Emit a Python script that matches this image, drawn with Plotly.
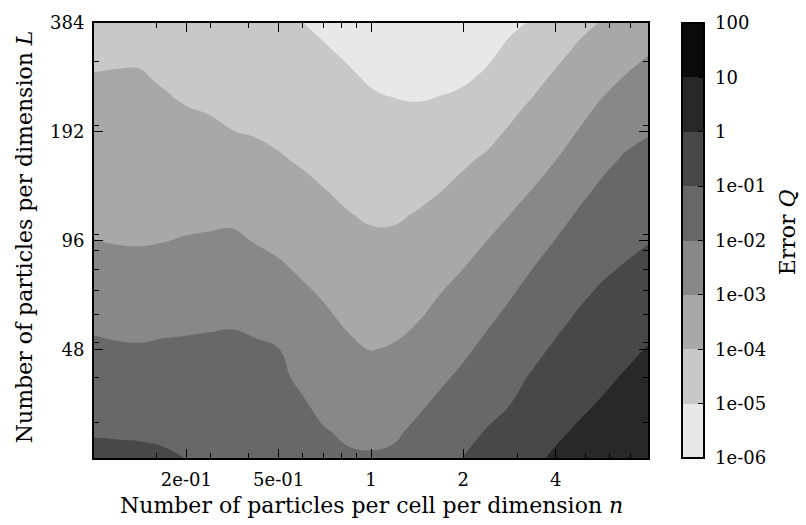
import plotly.graph_objects as go

# Grid: particles per cell per dimension (n) and particles per dimension (L)
n_values = [0.125, 0.1487, 0.177, 0.2102, 0.25, 0.2973, 0.354, 0.4204, 0.5,
            0.5946, 0.707, 0.8409, 1.0, 1.1892, 1.414, 1.6818, 2.0, 2.3784,
            2.828, 3.3636, 4.0, 4.7568, 5.657, 6.7272, 8.0]
L_values = [24, 28.54, 33.94, 40.36, 48, 57.08, 67.88, 80.72, 96, 114.16,
            135.76, 161.45, 192, 228.33, 271.53, 322.91, 384]

# log10 of the error Q, one list per n column (ordered by increasing L)
log10_error_by_n = [
    [-0.80, -1.07, -1.33, -1.59, -1.86, -2.13, -2.42, -2.71, -2.99, -3.16, -3.32, -3.48, -3.65, -3.81, -3.97, -4.13, -4.29],
    [-0.81, -1.09, -1.36, -1.64, -1.91, -2.20, -2.49, -2.78, -3.04, -3.19, -3.34, -3.50, -3.65, -3.80, -3.95, -4.11, -4.26],
    [-0.83, -1.11, -1.38, -1.66, -1.93, -2.22, -2.51, -2.81, -3.05, -3.20, -3.35, -3.50, -3.65, -3.80, -3.95, -4.11, -4.26],
    [-0.90, -1.14, -1.39, -1.64, -1.89, -2.16, -2.45, -2.74, -3.02, -3.19, -3.37, -3.55, -3.72, -3.90, -4.07, -4.25, -4.42],
    [-1.01, -1.22, -1.43, -1.66, -1.87, -2.13, -2.37, -2.68, -2.96, -3.17, -3.37, -3.59, -3.79, -4.01, -4.20, -4.38, -4.57],
    [-1.07, -1.27, -1.46, -1.67, -1.85, -2.09, -2.35, -2.63, -2.92, -3.16, -3.40, -3.63, -3.87, -4.08, -4.26, -4.45, -4.63],
    [-1.15, -1.33, -1.50, -1.68, -1.84, -2.06, -2.32, -2.61, -2.88, -3.16, -3.44, -3.72, -3.99, -4.17, -4.34, -4.52, -4.69],
    [-1.30, -1.45, -1.61, -1.76, -1.91, -2.13, -2.44, -2.74, -3.04, -3.30, -3.56, -3.81, -4.05, -4.25, -4.45, -4.65, -4.84],
    [-1.45, -1.59, -1.74, -1.87, -1.99, -2.31, -2.62, -2.90, -3.18, -3.43, -3.69, -3.94, -4.15, -4.34, -4.55, -4.72, -4.88],
    [-1.66, -1.80, -1.93, -2.13, -2.37, -2.62, -2.86, -3.11, -3.36, -3.61, -3.86, -4.08, -4.27, -4.45, -4.63, -4.81, -4.99],
    [-1.78, -1.97, -2.19, -2.41, -2.63, -2.85, -3.07, -3.31, -3.55, -3.79, -4.02, -4.21, -4.39, -4.58, -4.76, -4.95, -5.13],
    [-1.92, -2.10, -2.35, -2.60, -2.85, -3.09, -3.31, -3.53, -3.76, -3.98, -4.17, -4.35, -4.54, -4.72, -4.91, -5.10, -5.28],
    [-1.92, -2.20, -2.49, -2.77, -3.02, -3.25, -3.46, -3.68, -3.89, -4.09, -4.29, -4.48, -4.68, -4.87, -5.08, -5.31, -5.54],
    [-1.85, -2.13, -2.40, -2.67, -2.94, -3.18, -3.41, -3.64, -3.87, -4.10, -4.31, -4.52, -4.73, -4.95, -5.15, -5.35, -5.56],
    [-1.56, -1.85, -2.14, -2.43, -2.73, -3.01, -3.25, -3.49, -3.73, -3.97, -4.21, -4.47, -4.70, -4.97, -5.25, -5.45, -5.60],
    [-1.25, -1.55, -1.85, -2.14, -2.43, -2.72, -2.99, -3.27, -3.53, -3.79, -4.06, -4.34, -4.63, -4.91, -5.19, -5.42, -5.60],
    [-0.99, -1.30, -1.57, -1.85, -2.14, -2.43, -2.72, -3.01, -3.29, -3.55, -3.85, -4.11, -4.40, -4.76, -5.12, -5.39, -5.55],
    [-0.69, -0.97, -1.25, -1.53, -1.81, -2.10, -2.40, -2.70, -3.01, -3.31, -3.61, -3.91, -4.23, -4.56, -4.89, -5.18, -5.40],
    [-0.43, -0.70, -1.02, -1.23, -1.50, -1.78, -2.06, -2.38, -2.70, -3.02, -3.32, -3.62, -3.92, -4.23, -4.57, -4.86, -5.15],
    [-0.14, -0.40, -0.66, -0.93, -1.20, -1.47, -1.73, -2.01, -2.35, -2.69, -3.03, -3.32, -3.61, -3.91, -4.24, -4.59, -4.94],
    [0.11, -0.14, -0.39, -0.64, -0.89, -1.16, -1.43, -1.70, -1.98, -2.32, -2.67, -3.02, -3.31, -3.60, -3.89, -4.22, -4.60],
    [0.33, 0.09, -0.15, -0.39, -0.63, -0.87, -1.12, -1.39, -1.66, -1.93, -2.26, -2.61, -2.97, -3.28, -3.59, -3.89, -4.20],
    [0.52, 0.29, 0.06, -0.17, -0.41, -0.65, -0.88, -1.13, -1.39, -1.65, -1.90, -2.22, -2.57, -2.92, -3.27, -3.57, -3.96],
    [0.78, 0.54, 0.31, 0.06, -0.19, -0.44, -0.69, -0.95, -1.19, -1.43, -1.68, -1.92, -2.24, -2.61, -2.97, -3.32, -3.66],
    [0.93, 0.75, 0.54, 0.29, 0.04, -0.23, -0.50, -0.77, -1.04, -1.29, -1.54, -1.79, -2.05, -2.39, -2.73, -3.07, -3.40],
]

# Contour levels (log10 Q), their labels and the gray of each band between them
level_exponents = [-6, -5, -4, -3, -2, -1, 0, 1, 2]
level_labels = ["1e-06", "1e-05", "1e-04", "1e-03", "1e-02", "1e-01", "1", "10", "100"]
band_grays = ["#e8e8e8", "#c8c8c8", "#a8a8a8", "#888888",
              "#686868", "#484848", "#282828", "#0a0a0a"]

# Axis ticks
x_major = [0.25, 0.5, 1, 2, 4]
x_major_text = ["2e-01", "5e-01", "1", "2", "4"]
x_minor = [0.2, 0.3, 0.4, 0.6, 0.7, 0.8, 0.9, 3, 5, 6, 7]
y_major = [48, 96, 192, 384]
y_minor = [30, 40, 50, 60, 70, 80, 90, 100, 200, 300]

# z as rows over L, columns over n
z_grid = [[col[j] for col in log10_error_by_n] for j in range(len(L_values))]

# Contour fill colours: plotly evaluates the scale at level + size/2 over
# the domain [start - size/2, end + size/2]
nlev = len(level_exponents)
fill_scale = [[0.0, band_grays[0]]]
for i, c in enumerate(band_grays):
    fill_scale.append([(i + 1) / nlev, c])
fill_scale.append([1.0, band_grays[-1]])

# Stepped scale for the colour bar, one band per decade
nb = len(band_grays)
bar_scale = []
for i, c in enumerate(band_grays):
    bar_scale.append([i / nb, c])
    bar_scale.append([(i + 1) / nb, c])

FONT = "DejaVu Serif"
FS = 18        # tick labels
FS_TITLE = 22  # axis titles

fig = go.Figure()
fig.add_trace(go.Contour(
    x=n_values,
    y=L_values,
    z=z_grid,
    contours=dict(start=level_exponents[0], end=level_exponents[-1], size=1, coloring="fill"),
    colorscale=fill_scale,
    line=dict(width=0, smoothing=1.3),
    showscale=False,
    hoverinfo="skip",
))

bar_common = dict(
    x=(682 - 94) / 554, xanchor="left", xpad=0,
    y=0.5, yanchor="middle", ypad=0, len=1, lenmode="fraction",
    thickness=22, outlinewidth=2, outlinecolor="black",
    tickmode="array", tickvals=level_exponents,
    tickfont=dict(family=FONT, size=FS, color="black"),
)

# Colour bar with its labels (invisible outside ticks set the label gap)
fig.add_trace(go.Scatter(
    x=[None, None], y=[None, None], mode="markers",
    marker=dict(
        color=[level_exponents[0], level_exponents[-1]],
        cmin=level_exponents[0], cmax=level_exponents[-1],
        colorscale=bar_scale, showscale=True,
        colorbar=dict(ticktext=level_labels, ticks="outside", ticklen=7,
                      tickcolor="rgba(0,0,0,0)", **bar_common),
    ),
    hoverinfo="skip",
))
# Same colour bar again carrying the inside tick marks
fig.add_trace(go.Scatter(
    x=[None, None], y=[None, None], mode="markers",
    marker=dict(
        color=[level_exponents[0], level_exponents[-1]],
        cmin=level_exponents[0], cmax=level_exponents[-1],
        colorscale=bar_scale, showscale=True,
        colorbar=dict(ticks="inside", ticklen=7, tickwidth=1.2, tickcolor="black",
                      showticklabels=False, **bar_common),
    ),
    hoverinfo="skip",
))

axis_common = dict(
    showgrid=False, zeroline=False,
    showline=True, linewidth=2, linecolor="black", mirror="allticks",
    ticks="inside", ticklen=9, tickwidth=1.2, tickcolor="black",
    tickfont=dict(family=FONT, size=FS, color="black"),
)

fig.update_xaxes(
    type="log", range=[-0.90309, 0.90309],
    tickmode="array", tickvals=x_major, ticktext=x_major_text,
    minor=dict(tickmode="array", tickvals=x_minor, ticks="inside", ticklen=5,
               tickwidth=1, tickcolor="black"),
    ticklabelstandoff=4,
    **axis_common,
)
fig.update_yaxes(
    type="log", range=[1.380211, 2.584331],
    tickmode="array", tickvals=y_major, ticktext=[str(v) for v in y_major],
    minor=dict(tickmode="array", tickvals=y_minor, ticks="inside", ticklen=5,
               tickwidth=1, tickcolor="black"),
    ticklabelstandoff=4,
    **axis_common,
)

fig.add_annotation(
    text="Number of particles per cell per dimension <i>n</i>",
    xref="paper", yref="paper", x=0.5, y=(457.7 - 506) / 442.7,
    xanchor="center", yanchor="middle", showarrow=False,
    font=dict(family=FONT, size=FS_TITLE, color="black"),
)
fig.add_annotation(
    text="Number of particles per dimension <i>L</i>",
    xref="paper", yref="paper", x=(24 - 94) / 554, y=(457.7 - 233) / 442.7,
    xanchor="center", yanchor="middle", textangle=-90, showarrow=False,
    font=dict(family=FONT, size=FS_TITLE, color="black"),
)
fig.add_annotation(
    text="Error <i>Q</i>",
    xref="paper", yref="paper", x=(787 - 94) / 554, y=(457.7 - 228) / 442.7,
    xanchor="center", yanchor="middle", textangle=-90, showarrow=False,
    font=dict(family=FONT, size=FS_TITLE, color="black"),
)

fig.update_layout(
    width=806, height=525,
    margin=dict(l=94, r=158, t=15, b=67),
    paper_bgcolor="white", plot_bgcolor="white",
    showlegend=False,
)

fig.write_html("out.html")
